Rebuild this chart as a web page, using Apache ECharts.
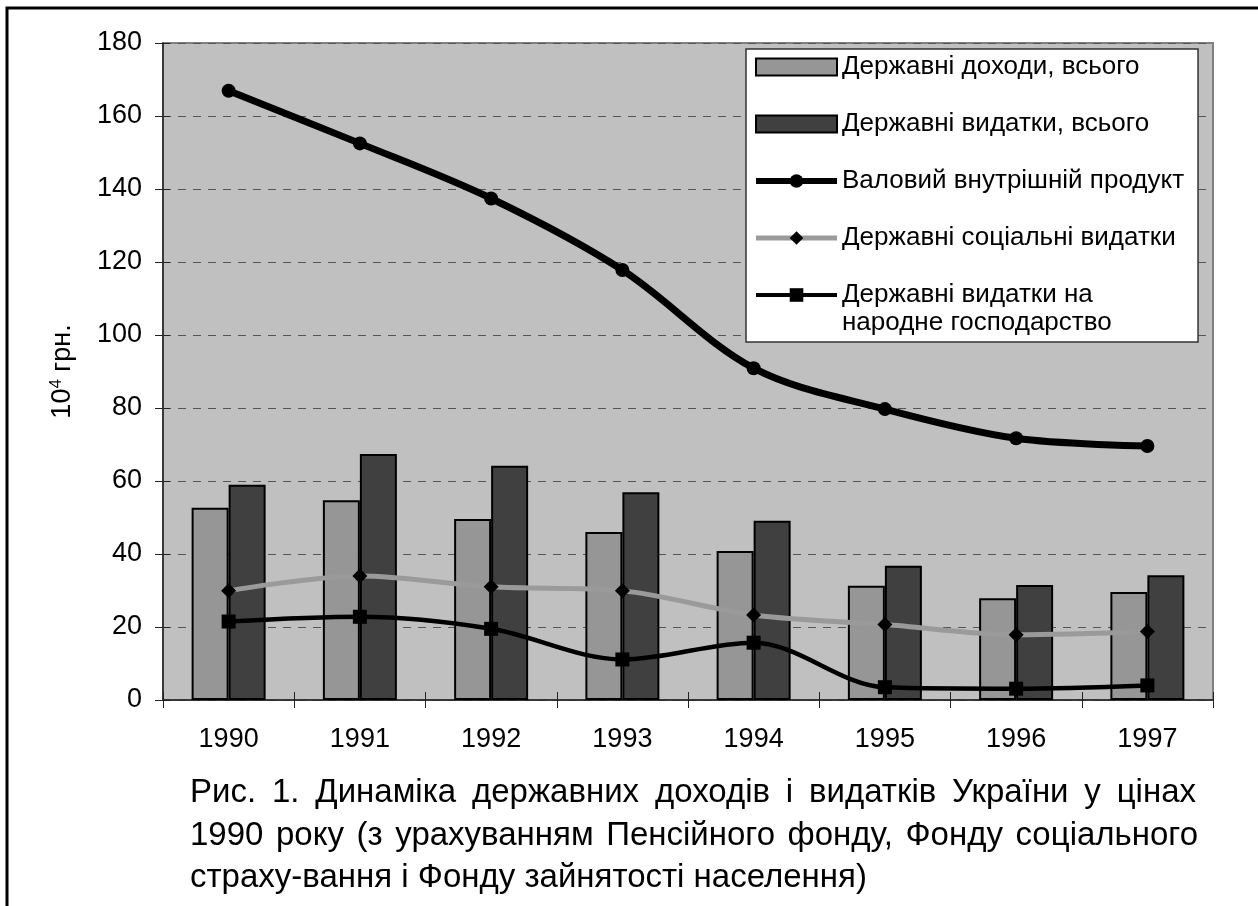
<!DOCTYPE html>
<html>
<head>
<meta charset="utf-8">
<script src="https://cdn.jsdelivr.net/npm/echarts@6/dist/echarts.min.js"></script>
<style>
  html, body { margin: 0; padding: 0; background: #fff; }
  #chart { width: 1258px; height: 906px; }
</style>
</head>
<body>
<div id="chart"></div>
<script>
var years = ['1990', '1991', '1992', '1993', '1994', '1995', '1996', '1997'];
var dohody = [52.7, 54.7, 49.6, 46.0, 40.8, 31.3, 27.9, 29.6];     // Державні доходи, всього
var vydatky = [59.0, 67.4, 64.2, 56.9, 49.1, 36.8, 31.5, 34.2];    // Державні видатки, всього
var vvp = [166.9, 152.5, 137.4, 117.8, 90.9, 79.7, 71.7, 69.6];     // Валовий внутрішній продукт
var socialni = [29.9, 34.0, 31.0, 29.9, 23.3, 20.7, 17.9, 18.8];   // Державні соціальні видатки
var gospodarstvo = [21.5, 22.8, 19.5, 11.1, 15.7, 3.5, 3.1, 4.0];  // Державні видатки на народне господарство

var names = ['Державні доходи, всього', 'Державні видатки, всього', 'Валовий внутрішній продукт',
    'Державні соціальні видатки', 'Державні видатки на народне господарство'];

var caption = [
    'Рис. 1. Динаміка державних доходів і видатків України у цінах',
    '1990 року (з урахуванням Пенсійного фонду, Фонду соціального',
    'страху-вання і Фонду зайнятості населення)'
];

var font = 'Arial, "Liberation Sans", sans-serif';
var capFont = '33px ' + font;

// розтягуємо рядок підпису по ширині (як вирівнювання по ширині у Word)
var ctx = document.createElement('canvas').getContext('2d');
function justify(line, x, y, width) {
    ctx.font = capFont;
    var words = line.split(' ');
    var total = 0;
    words.forEach(function (w) { total += ctx.measureText(w).width; });
    var gap = (width - total) / (words.length - 1);
    var out = [];
    words.forEach(function (w) {
        out.push({ type: 'text', x: x, y: y, silent: true,
            style: { text: w, font: capFont, fill: '#000', verticalAlign: 'middle' } });
        x += ctx.measureText(w).width + gap;
    });
    return out;
}

var graphics = [
    {
        type: 'rect',
        shape: { x: 7, y: 8, width: 1400, height: 1000 },
        style: { fill: 'none', stroke: '#000', lineWidth: 3 },
        silent: true
    },
    {
        type: 'text', x: 842, y: 323, silent: true, z: 100,
        style: { text: 'народне господарство', font: '26px ' + font, fill: '#000', verticalAlign: 'middle' }
    },
    {
        type: 'text', x: 190, y: 878, silent: true,
        style: { text: caption[2], font: capFont, fill: '#000', verticalAlign: 'middle' }
    }
].concat(justify(caption[0], 190, 793, 1006), justify(caption[1], 190, 836, 1008));

echarts.init(document.getElementById('chart')).setOption({
    animation: false,
    textStyle: { fontFamily: font, color: '#000' },
    grid: {
        left: 163, right: 45, top: 43, bottom: 206,
        show: true,
        backgroundColor: '#c0c0c0',
        borderColor: '#808080',
        borderWidth: 2
    },
    legend: {
        orient: 'vertical',
        left: 746,
        top: 49,
        padding: [4, 14, 33, 7],
        itemGap: 29,
        itemWidth: 81,
        itemHeight: 17,
        backgroundColor: '#fff',
        borderColor: '#333',
        borderWidth: 1.5,
        borderRadius: 0,
        textStyle: { fontSize: 26, lineHeight: 28, fontFamily: font, color: '#000' },
        formatter: function (name) {
            return name === names[4] ? 'Державні видатки на' : name;
        },
        data: [
            { name: names[0], icon: 'rect' },
            { name: names[1], icon: 'rect' },
            { name: names[2], lineStyle: { width: 6 } },
            { name: names[3], lineStyle: { width: 5 } },
            { name: names[4], lineStyle: { width: 4 } }
        ]
    },
    xAxis: [{
        type: 'category',
        data: years,
        position: 'bottom',
        axisLine: { lineStyle: { color: '#222', width: 1.5 } },
        axisTick: { show: true, length: 8, lineStyle: { color: '#222' } },
        axisLabel: { fontSize: 27, margin: 26, color: '#000', fontFamily: font }
    }, {
        type: 'category',
        data: years,
        position: 'bottom',
        axisLine: { show: false },
        axisTick: { show: true, inside: true, length: 8, lineStyle: { color: '#222' } },
        axisLabel: { show: false }
    }],
    yAxis: [{
        type: 'value',
        min: 0, max: 180, interval: 20,
        name: '{n|10}{s|4}{n| грн.}',
        nameLocation: 'middle',
        nameGap: 86,
        nameRotate: 90,
        nameTextStyle: {
            rich: {
                n: { fontSize: 27, fontFamily: font, color: '#000' },
                s: { fontSize: 17, fontFamily: font, color: '#000', verticalAlign: 'top', padding: [0, 0, 12, 0] }
            }
        },
        axisLine: { show: true, lineStyle: { color: '#222', width: 1.5 } },
        axisTick: { show: true, length: 8, lineStyle: { color: '#222' } },
        axisLabel: { fontSize: 27, margin: 21, color: '#000', fontFamily: font },
        splitLine: { lineStyle: { color: '#555', type: [8, 7], width: 1 } }
    }, {
        type: 'value',
        min: 0, max: 180, interval: 20,
        position: 'left',
        axisLine: { show: false },
        axisTick: { show: true, inside: true, length: 7, lineStyle: { color: '#222' } },
        axisLabel: { show: false },
        splitLine: { show: false }
    }],
    series: [
        {
            name: names[0],
            type: 'bar',
            data: dohody,
            barWidth: 37,
            barGap: '0%',
            itemStyle: { color: '#969696', borderColor: '#000', borderWidth: 2 }
        },
        {
            name: names[1],
            type: 'bar',
            data: vydatky,
            barWidth: 37,
            barGap: '0%',
            itemStyle: { color: '#404040', borderColor: '#000', borderWidth: 2 }
        },
        {
            name: names[2],
            type: 'line',
            data: vvp,
            smooth: 0.33,
            symbol: 'circle',
            symbolSize: 14,
            lineStyle: { color: '#000', width: 7 },
            itemStyle: { color: '#000' }
        },
        {
            name: names[3],
            type: 'line',
            data: socialni,
            smooth: 0.33,
            symbol: 'diamond',
            symbolSize: 15,
            lineStyle: { color: '#9a9a9a', width: 5 },
            itemStyle: { color: '#000' }
        },
        {
            name: names[4],
            type: 'line',
            data: gospodarstvo,
            smooth: 0.33,
            symbol: 'rect',
            symbolSize: 14,
            lineStyle: { color: '#000', width: 4.5 },
            itemStyle: { color: '#000' }
        }
    ],
    graphic: graphics
});
</script>
</body>
</html>
